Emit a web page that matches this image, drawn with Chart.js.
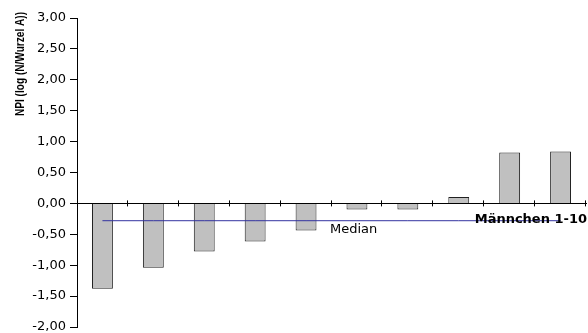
<!DOCTYPE html>
<html>
<head>
<meta charset="utf-8">
<script src="https://cdn.jsdelivr.net/npm/chart.js@4/dist/chart.umd.min.js"></script>
<style>
html,body{margin:0;padding:0;background:#fff;}
#wrap{width:588px;height:333px;position:relative;}
</style>
</head>
<body>
<div id="wrap"><canvas id="c" width="588" height="333"></canvas></div>
<script>
const categories = ['1','2','3','4','5','6','7','8','9','10'];
const npiValues = [-1.38, -1.04, -0.78, -0.615, -0.44, -0.10, -0.10, 0.105, 0.825, 0.84];
const medianValue = -0.28;
const medianValues = categories.map(() => medianValue);
const yTitle = 'NPI (log (N/Wurzel A))';
const xTitle = 'Männchen 1-10';
const medianLabel = 'Median';

const decor = {
  id: 'decor',
  afterDraw(chart) {
    const ctx = chart.ctx;
    const x = chart.scales.x, y = chart.scales.y;
    const y0 = y.getPixelForValue(0);
    ctx.save();
    ctx.strokeStyle = '#000';
    ctx.lineWidth = 1;
    const half = (x.getPixelForValue(1) - x.getPixelForValue(0)) / 2;
    for (let i = 0; i < categories.length; i++) {
      const px = Math.round(x.getPixelForValue(i) + half) - 0.5;
      ctx.beginPath();
      ctx.moveTo(px, y0 - 3);
      ctx.lineTo(px, y0 + 3);
      ctx.stroke();
    }
    ctx.fillStyle = '#000';
    ctx.font = 'bold 12px "Liberation Sans", Arial, sans-serif';
    ctx.textAlign = 'center';
    ctx.textBaseline = 'middle';
    ctx.translate(21, 64);
    ctx.rotate(-Math.PI / 2);
    ctx.scale(0.84, 1);
    ctx.fillText(yTitle, 0, 0);
    ctx.setTransform(1, 0, 0, 1, 0, 0);
    ctx.font = 'bold 13px "DejaVu Sans", sans-serif';
    ctx.textAlign = 'right';
    ctx.textBaseline = 'alphabetic';
    ctx.fillText(xTitle, 587, 223);
    ctx.font = '13px "DejaVu Sans", sans-serif';
    ctx.textAlign = 'left';
    ctx.fillText(medianLabel, x.getPixelForValue(5) - 27, y.getPixelForValue(medianValue) + 12);
    ctx.restore();
  }
};

new Chart(document.getElementById('c'), {
  type: 'bar',
  data: {
    labels: categories,
    datasets: [
      {
        type: 'line',
        data: medianValues,
        borderColor: '#3333a0',
        borderWidth: 1,
        pointRadius: 0,
        fill: false,
        order: 0
      },
      {
        type: 'bar',
        data: npiValues,
        backgroundColor: '#c0c0c0',
        borderColor: '#202020',
        borderWidth: 1,
        barPercentage: 0.41,
        categoryPercentage: 1,
        order: 1
      }
    ]
  },
  options: {
    responsive: false,
    animation: false,
    events: [],
    layout: { padding: { left: 0, top: 18, right: 2, bottom: 6 } },
    plugins: { legend: { display: false }, tooltip: { enabled: false } },
    scales: {
      x: {
        position: { y: 0 },
        offset: true,
        afterFit(s) { s.height = 0; s.paddingLeft = 0; s.paddingRight = 0; },
        ticks: { display: false },
        grid: { drawOnChartArea: false, drawTicks: false },
        border: { display: true, color: '#000', width: 1 }
      },
      y: {
        min: -2,
        max: 3,
        afterFit(s) { s.width = 77; s.paddingTop = 0; s.paddingBottom = 0; },
        ticks: {
          stepSize: 0.5,
          color: '#000',
          padding: 4,
          font: { family: '"DejaVu Sans", sans-serif', size: 13 },
          callback: v => v.toFixed(2).replace('.', ',')
        },
        grid: { drawOnChartArea: false, tickLength: 7, color: '#000' },
        border: { display: true, color: '#000', width: 1 }
      }
    }
  },
  plugins: [decor]
});
</script>
</body>
</html>
